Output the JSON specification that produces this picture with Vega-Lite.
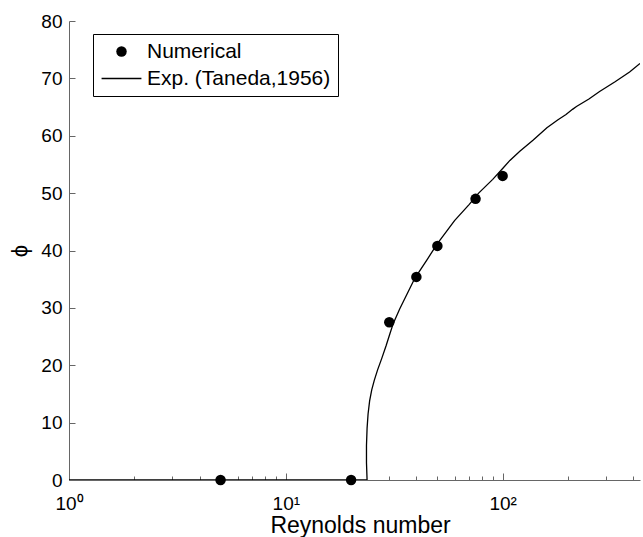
{
  "$schema": "https://vega.github.io/schema/vega-lite/v6.json",
  "width": 571,
  "height": 459,
  "autosize": "none",
  "padding": {"left": 69, "top": 21, "right": 3, "bottom": 57},
  "config": {
    "view": {"stroke": null},
    "font": "Liberation Sans",
    "axis": {"grid": false, "domainColor": "#666666", "tickColor": "#666666", "labelColor": "black", "titleColor": "black", "titleFontWeight": "normal", "labelFont": "Liberation Sans", "titleFont": "Liberation Sans"}
  },
  "datasets": {
    "exp": [
      {"i": 0, "Re": 1, "phi": 0},
      {"i": 1, "Re": 23.7, "phi": 0},
      {"i": 2, "Re": 23.55, "phi": 3},
      {"i": 3, "Re": 23.55, "phi": 6},
      {"i": 4, "Re": 23.7, "phi": 9},
      {"i": 5, "Re": 23.95, "phi": 11.5},
      {"i": 6, "Re": 24.35, "phi": 13.8},
      {"i": 7, "Re": 24.9, "phi": 15.7},
      {"i": 8, "Re": 25.6, "phi": 17.4},
      {"i": 9, "Re": 26.5, "phi": 19.2},
      {"i": 10, "Re": 27.7, "phi": 21.2},
      {"i": 11, "Re": 29.0, "phi": 23.4},
      {"i": 12, "Re": 30.2, "phi": 25.5},
      {"i": 13, "Re": 31.3, "phi": 27.3},
      {"i": 14, "Re": 33.5, "phi": 29.8},
      {"i": 15, "Re": 36, "phi": 32.2},
      {"i": 16, "Re": 39.4, "phi": 35.2},
      {"i": 17, "Re": 45, "phi": 38.5},
      {"i": 18, "Re": 50, "phi": 41.2},
      {"i": 19, "Re": 60, "phi": 45.2},
      {"i": 20, "Re": 70, "phi": 48.0},
      {"i": 21, "Re": 77.5, "phi": 50.0},
      {"i": 22, "Re": 90, "phi": 52.4},
      {"i": 23, "Re": 100, "phi": 54.3},
      {"i": 24, "Re": 108, "phi": 55.7},
      {"i": 25, "Re": 120, "phi": 57.3},
      {"i": 26, "Re": 138, "phi": 59.2},
      {"i": 27, "Re": 160, "phi": 61.4},
      {"i": 28, "Re": 180, "phi": 62.8},
      {"i": 29, "Re": 196, "phi": 63.7},
      {"i": 30, "Re": 210, "phi": 64.6},
      {"i": 31, "Re": 219, "phi": 65.1},
      {"i": 32, "Re": 250, "phi": 66.4},
      {"i": 33, "Re": 280, "phi": 67.7},
      {"i": 34, "Re": 330, "phi": 69.4},
      {"i": 35, "Re": 385, "phi": 71.1},
      {"i": 36, "Re": 430, "phi": 72.6}
    ],
    "num": [
      {"Re": 5, "phi": 0, "series": "Numerical"},
      {"Re": 20, "phi": 0, "series": "Numerical"},
      {"Re": 30, "phi": 27.5, "series": "Numerical"},
      {"Re": 40, "phi": 35.4, "series": "Numerical"},
      {"Re": 50, "phi": 40.8, "series": "Numerical"},
      {"Re": 75, "phi": 49.0, "series": "Numerical"},
      {"Re": 100, "phi": 53.0, "series": "Numerical"}
    ]
  },
  "layer": [
    {
      "data": {"name": "exp"},
      "mark": {"type": "line", "color": "black", "strokeWidth": 1.3, "clip": true},
      "encoding": {
        "x": {
          "field": "Re", "type": "quantitative",
          "scale": {"type": "log", "domain": [1, 430], "nice": false},
          "axis": {"orient": "bottom", "values": [2,3,4,5,6,7,8,9,20,30,40,50,60,70,80,90,200,300,400], "labels": false, "domain": false, "tickSize": -4, "title": null}
        },
        "y": {
          "field": "phi", "type": "quantitative",
          "scale": {"domain": [0, 80], "nice": false},
          "axis": {"values": [0,10,20,30,40,50,60,70,80], "tickSize": -6, "labelPadding": 13, "labelFontSize": 19, "labelFlush": false, "title": "ϕ", "titleFontSize": 22, "titleX": -50, "titleY": 229.5, "titleAlign": "center", "titleBaseline": "middle", "titleAngle": 270}
        },
        "order": {"field": "i", "type": "quantitative"}
      }
    },
    {
      "data": {"name": "num"},
      "mark": {"type": "point", "filled": true, "color": "black", "opacity": 1, "size": 110},
      "encoding": {
        "x": {
          "field": "Re", "type": "quantitative",
          "scale": {"type": "log", "domain": [1, 430], "nice": false},
          "axis": {"orient": "bottom", "values": [1, 10, 100], "tickSize": -7, "labelPadding": 21, "labelFontSize": 19, "labelFlush": false, "labelExpr": "datum.value == 1 ? '10⁰' : datum.value == 10 ? '10¹' : '10²'", "title": "Reynolds number", "titleFontSize": 23, "titleX": 291, "titleY": 52, "titleBaseline": "alphabetic", "titleAlign": "center"}
        },
        "y": {
          "field": "phi", "type": "quantitative",
          "scale": {"domain": [0, 80], "nice": false},
          "axis": {"values": [0,10,20,30,40,50,60,70,80], "tickSize": -6, "labelPadding": 13, "labelFontSize": 19, "labelFlush": false, "title": "ϕ", "titleFontSize": 22, "titleX": -50, "titleY": 229.5, "titleAlign": "center", "titleBaseline": "middle", "titleAngle": 270}
        },
        "shape": {
          "field": "series", "type": "nominal",
          "scale": {"domain": ["Numerical", "Exp. (Taneda,1956)"], "range": ["circle", "M-3.8,-0.12H3.8V0.12H-3.8Z"]},
          "legend": {
            "orient": "none", "legendX": 24, "legendY": 13, "title": null,
            "strokeColor": "black", "padding": 7, "rowPadding": 5,
            "labelFontSize": 21, "labelFont": "Liberation Sans", "labelLimit": 400, "labelColor": "black",
            "labelOffset": 15, "symbolOffset": 11, "symbolSize": 110,
            "symbolFillColor": "black", "symbolOpacity": 1
          }
        }
      }
    }
  ],
  "resolve": {"axis": {"x": "independent"}}
}
